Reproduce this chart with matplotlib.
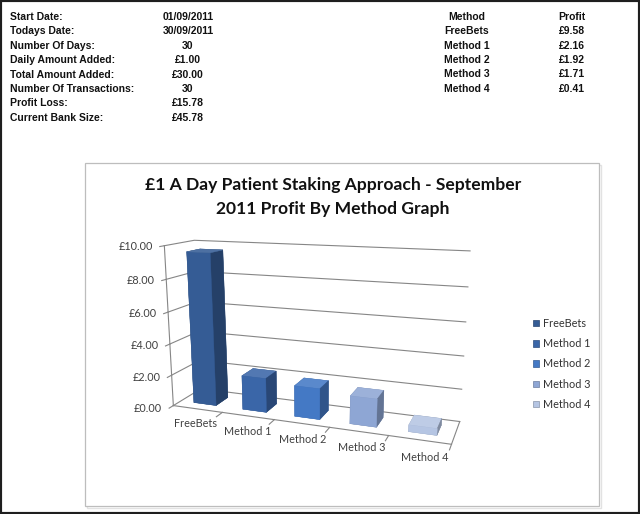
import matplotlib
matplotlib.use("Agg")
import numpy as np
import matplotlib.pyplot as plt
from matplotlib.patches import Rectangle, Patch
from matplotlib.colors import to_rgb
from mpl_toolkits.mplot3d import proj3d

W, H = 640, 514

# summary block (top left)
info_labels = ["Start Date:", "Todays Date:", "Number Of Days:", "Daily Amount Added:",
               "Total Amount Added:", "Number Of Transactions:", "Profit Loss:",
               "Current Bank Size:"]
info_values = ["01/09/2011", "30/09/2011", "30", "£1.00", "£30.00", "30", "£15.78", "£45.78"]

# profit table (top right) and chart data
methods = ["FreeBets", "Method 1", "Method 2", "Method 3", "Method 4"]
profit = [9.58, 2.16, 1.92, 1.71, 0.41]
profit_text = ["£9.58", "£2.16", "£1.92", "£1.71", "£0.41"]

value_ticks = [0, 2, 4, 6, 8, 10]
value_tick_labels = ["£0.00", "£2.00", "£4.00", "£6.00", "£8.00", "£10.00"]

bar_colors = ["#355c95", "#3a66a8", "#4479c5", "#8ea6d4", "#b5c5e3"]

title_lines = ["£1 A Day Patient Staking Approach - September",
               "2011 Profit By Method Graph"]


def shade(c, f):
    r = np.array(to_rgb(c))
    if f < 1:
        return tuple(r * f)
    return tuple(r + (1 - r) * (f - 1))


def fx(x):
    return x / W


def fy(y):
    return 1 - y / H


fig = plt.figure(figsize=(W / 100, H / 100), dpi=100)
fig.patch.set_facecolor("white")

# outer frame and chart frame
fig.patches.append(Rectangle((0, 0), 1, 1, transform=fig.transFigure, fill=False,
                             lw=3, ec="#1e1e1e", zorder=10))
fig.patches.append(Rectangle((fx(87), fy(508)), 514 / W, 343 / H, transform=fig.transFigure,
                             fill=False, lw=1, ec="#e2e2e2", zorder=-2))
fig.patches.append(Rectangle((fx(85), fy(506)), 514 / W, 343 / H, transform=fig.transFigure,
                             fc="white", lw=0.9, ec="#bdbdbd", zorder=-1))

tfont = dict(family="Liberation Sans", fontweight="bold", fontsize=7.5, color="#111111")
row_y = 17
for lab, val in zip(info_labels, info_values):
    fig.text(fx(10), fy(row_y), lab, ha="left", va="center", **tfont)
    fig.text(fx(188), fy(row_y), val, ha="center", va="center", **tfont)
    row_y += 14.4

fig.text(fx(467), fy(17), "Method", ha="center", va="center", **tfont)
fig.text(fx(572), fy(17), "Profit", ha="center", va="center", **tfont)
row_y = 31.4
for m, p in zip(methods, profit_text):
    fig.text(fx(467), fy(row_y), m, ha="center", va="center", **tfont)
    fig.text(fx(572), fy(row_y), p, ha="center", va="center", **tfont)
    row_y += 14.3

for ty, line in zip([185, 209], title_lines):
    fig.text(fx(333), fy(ty), line, ha="center", va="center", family="Lato",
             fontweight="bold", fontsize=12.6, color="#111111", zorder=5)

# 3D chart
ax = fig.add_axes([fx(120), fy(480), 360 / W, 360 / H], projection="3d",
                  proj_type="persp", focal_length=0.35, computed_zorder=False)
ax.set_facecolor((1, 1, 1, 0))
ax.view_init(elev=14, azim=-70)
ax.set_box_aspect((5, 1, 2.9))

x0, x1 = 0, len(methods)
y0, y1 = 0, 1
zmax = value_ticks[-1]
grid_c = "#868686"

for z in value_ticks:
    ax.plot([x0, x0, x1], [y0, y1, y1], [z, z, z], color=grid_c, lw=0.8, zorder=1)
    ax.plot([x0, x0], [y0 - 0.14, y0], [z, z], color=grid_c, lw=0.8, zorder=1)
ax.plot([x0, x0], [y0, y0], [0, zmax], color=grid_c, lw=0.8, zorder=1)
ax.plot([x0, x1, x1], [y0, y0, y1], [0, 0, 0], color=grid_c, lw=0.8, zorder=1)
for k in range(1, len(methods) + 1):
    ax.plot([k, k], [y0, y0 - 0.22], [0, 0], color=grid_c, lw=0.8, zorder=1)

bw, bd = 0.46, 0.46
xs = np.arange(len(methods)) + 0.5
for i, (x, v, c) in enumerate(zip(xs, profit, bar_colors)):
    # face order in bar3d: -z, +z, -y, +y, -x, +x
    faces = [shade(c, 0.8), shade(c, 1.12), c, shade(c, 0.8), shade(c, 0.8), shade(c, 0.7)]
    ax.bar3d(x - bw / 2, 0.5 - bd / 2, 0, bw, bd, v, color=faces, edgecolor=faces,
             linewidth=0.3, shade=False, zorder=3 + i)

ax.set_xlim(x0, x1)
ax.set_ylim(y0, y1)
ax.set_zlim(0, zmax)
ax.set_axis_off()


def to_disp(x, y, z):
    u, v, _ = proj3d.proj_transform(x, y, z, ax.get_proj())
    return ax.transData.transform((u, v))


# place the axes so the floor/walls land where the reference draws them
anchors = [((x0, y0, 0), (172, 405)), ((x0, y0, zmax), (163, 247)),
           ((x1, y1, zmax), (470, 254)), ((x1, y0, 0), (452, 443)),
           ((x1, y1, 0), (462, 419))]
fig.canvas.draw()
A, t = [], []
for p3, (px, py) in anchors:
    n = ax.transAxes.inverted().transform(to_disp(*p3))
    A.append([n[0], 1, 0]); t.append(px)
    A.append([n[1], 0, 1]); t.append(H - py)
S, L, B = np.linalg.lstsq(np.array(A), np.array(t), rcond=None)[0]
ax.set_position([L / W, B / H, S / W, S / H])
fig.canvas.draw()

lab_font = dict(family="Lato", fontsize=7.8, color="#404040")
for z, lab in zip(value_ticks, value_tick_labels):
    px, py = to_disp(x0, y0 - 0.14, z)
    fig.text((px - 7) / W, py / H, lab, ha="right", va="center", **lab_font)
for x, m in zip(xs, methods):
    px, py = to_disp(x, y0 - 0.45, 0)
    fig.text((px + 11) / W, (py - 6) / H, m, ha="center", va="center", **lab_font)

handles = [Patch(facecolor=c, edgecolor=shade(c, 0.75), lw=0.5) for c in bar_colors]
fig.legend(handles, methods, loc="upper left", bbox_to_anchor=(fx(533), fy(318)),
           frameon=False, prop=dict(family="Lato", size=7.8), labelcolor="#333333",
           handlelength=0.55, handleheight=0.55, handletextpad=0.35, labelspacing=0.85,
           borderpad=0, borderaxespad=0)

fig.savefig("out.png", dpi=100)
